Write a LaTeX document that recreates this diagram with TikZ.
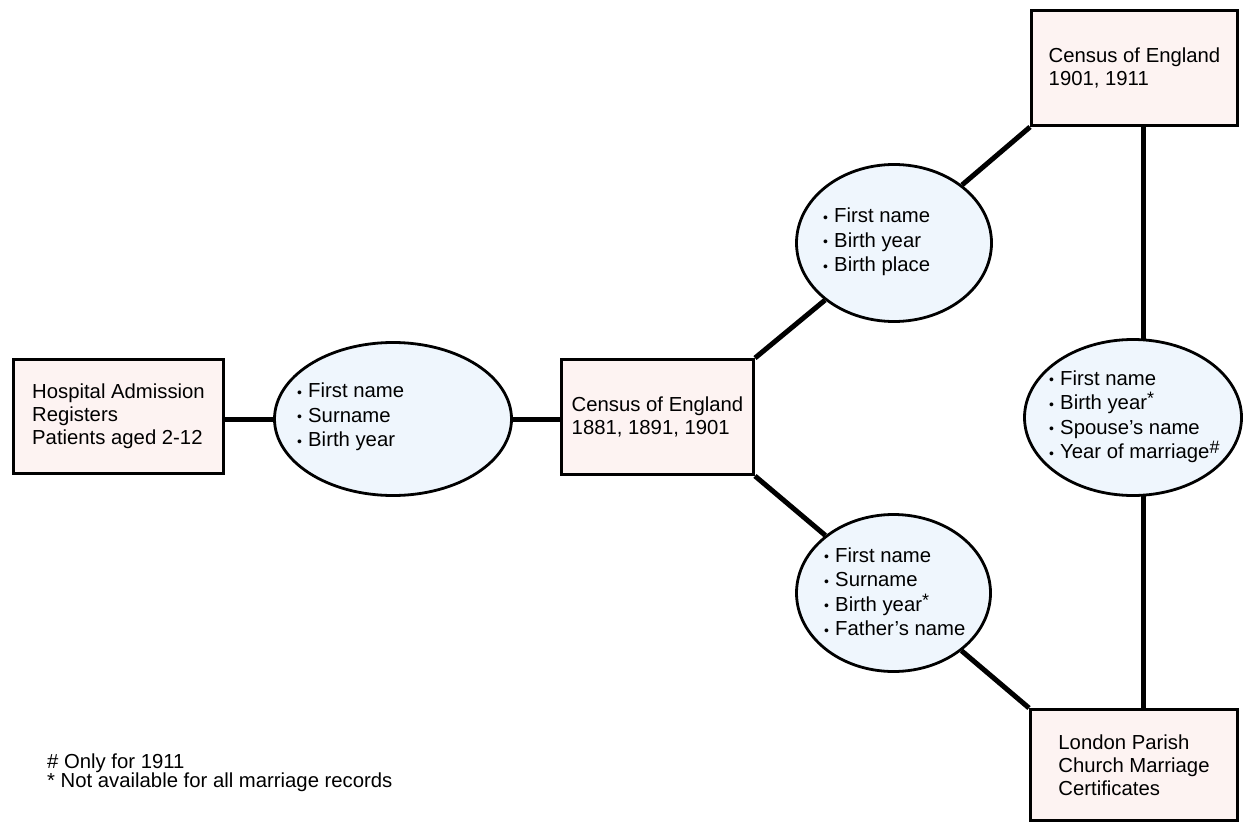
\documentclass[tikz,border=0pt]{standalone}
\usepackage{fontspec}
\setmainfont{Liberation Sans}
\usetikzlibrary{shapes.geometric,backgrounds}
\definecolor{boxfill}{RGB}{253,243,242}
\definecolor{ovalfill}{RGB}{239,246,253}
\newcommand\boxfnt{\fontsize{20.3}{23}\selectfont}
\newcommand\ovalfnt{\fontsize{20.3}{24.5}\selectfont}
\newcommand\bul{\makebox[11pt][l]{\raisebox{0.3pt}{\fontsize{14}{14}\selectfont\textbullet}}}
\newcommand\supmark[1]{\raisebox{5pt}{\fontsize{18}{18}\selectfont #1}}
\tikzset{
  srcbox/.style={draw, line width=3pt, fill=boxfill, inner sep=0pt, align=left, font=\boxfnt},
  keyoval/.style={ellipse, draw, line width=2.8pt, fill=ovalfill, inner sep=0pt},
  ovtext/.style={anchor=west, align=left, inner sep=0pt, font=\ovalfnt},
  link/.style={line width=5pt},
}
\begin{document}
\begin{tikzpicture}[x=1pt,y=-1pt]
\useasboundingbox (0,0) rectangle (1244,824);
% boxes
\node[srcbox, minimum width=210pt, minimum height=114pt] (b1) at (118.5,416.5)
  {Hospital Admission\\Registers\\Patients aged 2-12};
\node[srcbox, minimum width=192pt, minimum height=115pt] (b2) at (657.5,417)
  {Census of England\\1881, 1891, 1901};
\node[srcbox, minimum width=206pt, minimum height=115pt] (b3) at (1134.5,68)
  {Census of England\\1901, 1911};
\node[srcbox, minimum width=207pt, minimum height=111pt] (b4) at (1134,765)
  {London Parish\\Church Marriage\\Certificates};
% ovals
\node[keyoval, minimum width=237pt, minimum height=153pt] (e1) at (393,419) {};
\node[keyoval, minimum width=195pt, minimum height=157pt] (e2) at (894,243) {};
\node[keyoval, minimum width=194pt, minimum height=157pt] (e3) at (893.5,593) {};
\node[keyoval, minimum width=217pt, minimum height=156pt] (e4) at (1133,417.5) {};
% oval texts
\node[ovtext] (e1t) at (297,417) {\bul First name\\\bul Surname\\\bul Birth year};
\node[ovtext] (e2t) at (823,242) {\bul First name\\\bul Birth year\\\bul Birth place};
\node[ovtext] (e3t) at (824,591.5) {\bul First name\\\bul Surname\\\bul Birth year\supmark{*}\\\bul Father’s name};
\node[ovtext] (e4t) at (1049,416.5) {\bul First name\\\bul Birth year\supmark{*}\\\bul Spouse’s name\\\bul Year of marriage\supmark{\#}};
% footnotes
\node[anchor=west, align=left, inner sep=0pt, font=\fontsize{20.3}{19.5}\selectfont] (notes) at (47,772.5)
  {\# Only for 1911\\* Not available for all marriage records};
% connectors
\coordinate (vx) at (1143,0);
\begin{scope}[on background layer]
\fill[white] (0,0) rectangle (1244,824);
\draw[link] (b1.east |- e1.west) -- (e1.west);
\draw[link] (e1.east) -- (b2.west |- e1.east);
\draw[link] (b2.north east) -- (e2);
\draw[link] (e2) -- (b3.south west);
\draw[link] (b2.south east) -- (e3);
\draw[link] (e3) -- (b4.north west);
\draw[link] (b3.south -| vx) -- (b4.north -| vx);
\end{scope}
\end{tikzpicture}
\end{document}
